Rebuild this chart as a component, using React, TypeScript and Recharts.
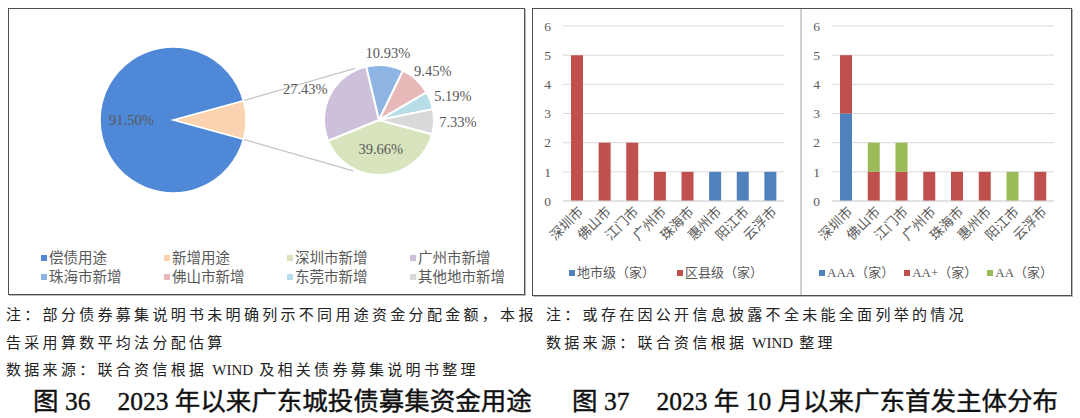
import React from 'react';
import { PieChart, Pie, Cell, BarChart, Bar, XAxis, YAxis, CartesianGrid } from 'recharts';

// ---------- data ----------
const mainNames = ['偿债用途', '新增用途'];
const mainValues = [91.5, 8.5];
const subNames = ['深圳市新增', '广州市新增', '珠海市新增', '佛山市新增', '东莞市新增', '其他地市新增'];
const subValues = [39.66, 27.43, 10.93, 9.45, 5.19, 7.33];
const legendNames = ['偿债用途', '新增用途', '深圳市新增', '广州市新增', '珠海市新增', '佛山市新增', '东莞市新增', '其他地市新增'];

const cities = ['深圳市', '佛山市', '江门市', '广州市', '珠海市', '惠州市', '阳江市', '云浮市'];
const cityLevel = [0, 0, 0, 0, 0, 1, 1, 1];
const districtLevel = [5, 2, 2, 1, 1, 0, 0, 0];
const ratingAAA = [3, 0, 0, 0, 0, 0, 0, 0];
const ratingAAPlus = [2, 1, 1, 1, 1, 1, 0, 1];
const ratingAA = [0, 1, 1, 0, 0, 0, 1, 0];
const yTicks = [0, 1, 2, 3, 4, 5, 6];

const levelSeries = ['地市级（家）', '区县级（家）'];
const ratingSeries = ['AAA（家）', 'AA+（家）', 'AA（家）'];

// ---------- styles ----------
const SERIF = '"Liberation Serif", "Noto Sans CJK SC", serif';
const TEXT = '#595959';
const colorOf: Record<string, string> = {
  '偿债用途': '#4F88D6',
  '新增用途': '#FBD3B0',
  '深圳市新增': '#D7E4BD',
  '广州市新增': '#CCC0DA',
  '珠海市新增': '#8DB4E2',
  '佛山市新增': '#E6B9B8',
  '东莞市新增': '#B7DEE8',
  '其他地市新增': '#D9D9D9',
};
const BLUE = '#4F81BD';
const RED = '#C0504D';
const GREEN = '#9BBB59';

// pie geometry
const MAIN_CX = 173, MAIN_CY = 120, MAIN_R = 73;
const SUB_CX = 379, SUB_CY = 120, SUB_R = 55;
const SUB_START = -15;

const mainData = [
  { name: mainNames[1], value: mainValues[1] },
  { name: mainNames[0], value: mainValues[0] },
];
const subData = subNames.map((n, i) => ({ name: n, value: subValues[i] }));
const mainHalf = (mainValues[1] / (mainValues[0] + mainValues[1])) * 180;

const levelData = cities.map((c, i) => ({ city: c, a: cityLevel[i], b: districtLevel[i] }));
const ratingData = cities.map((c, i) => ({ city: c, aaa: ratingAAA[i], aap: ratingAAPlus[i], aa: ratingAA[i] }));

const RAD = Math.PI / 180;
const LABEL_FS = 14.5;

const mainLabel = (p: any) => {
  const { cx, cy, midAngle, outerRadius, percent, value } = p;
  if (percent < 0.5) return null;
  const r = outerRadius * 0.57;
  const x = cx + r * Math.cos(-midAngle * RAD);
  const y = cy + r * Math.sin(-midAngle * RAD);
  return (
    <text x={x} y={y} textAnchor="middle" dominantBaseline="central" fontSize={LABEL_FS} fontFamily={SERIF} fill={TEXT}>
      {Number(value).toFixed(2)}%
    </text>
  );
};

const subLabel = (p: any) => {
  const { cx, cy, midAngle, outerRadius, percent, value } = p;
  const c = Math.cos(-midAngle * RAD);
  const s = Math.sin(-midAngle * RAD);
  const txt = Number(value).toFixed(2) + '%';
  if (percent > 0.35) {
    const r = outerRadius * 0.53;
    return (
      <text x={cx + r * c} y={cy + r * s} textAnchor="middle" dominantBaseline="central" fontSize={LABEL_FS} fontFamily={SERIF} fill={TEXT}>
        {txt}
      </text>
    );
  }
  const px = cx + (outerRadius + 5) * c;
  const py = cy + (outerRadius + 5) * s;
  const w = txt.length * 7.6;
  const h = 14;
  return (
    <text x={px + (c * w) / 2} y={py + (s * h) / 2} textAnchor="middle" dominantBaseline="central" fontSize={LABEL_FS} fontFamily={SERIF} fill={TEXT}>
      {txt}
    </text>
  );
};

const CityTick = (props: any) => {
  const { x, y, payload } = props;
  return (
    <g transform={`translate(${x + 4},${y})`}>
      <text x={0} y={0} dy="0.35em" textAnchor="end" transform="rotate(-45)" fontSize={13.5} fontFamily={SERIF} fill={TEXT}>
        {payload.value}
      </text>
    </g>
  );
};

const Marker = ({ color }: { color: string }) => (
  <span style={{ display: 'inline-block', width: 6, height: 6, background: color, marginRight: 2, verticalAlign: 'middle', position: 'relative', top: -1 }} />
);

const abs = (l: number, t: number, extra: React.CSSProperties = {}): React.CSSProperties => ({
  position: 'absolute',
  left: l,
  top: t,
  ...extra,
});

const noteStyle: React.CSSProperties = {
  fontFamily: SERIF,
  fontSize: 15,
  letterSpacing: 3.3,
  color: '#222',
  whiteSpace: 'pre',
  lineHeight: '20px',
};

const latin: React.CSSProperties = { letterSpacing: 0, marginLeft: -2, marginRight: 6 };

const captionStyle: React.CSSProperties = {
  fontFamily: SERIF,
  fontSize: 25.5,
  fontWeight: 400,
  color: '#111',
  whiteSpace: 'pre',
  lineHeight: '30px',
  WebkitTextStroke: '0.4px #111',
};

export default function App() {
  // connector geometry derived from pie constants
  const p1 = { x: MAIN_CX + MAIN_R * Math.cos(mainHalf * RAD), y: MAIN_CY - MAIN_R * Math.sin(mainHalf * RAD) };
  const p2 = { x: MAIN_CX + MAIN_R * Math.cos(-mainHalf * RAD), y: MAIN_CY - MAIN_R * Math.sin(-mainHalf * RAD) };
  const q1 = { x: SUB_CX + (SUB_R + 2) * Math.cos(115 * RAD), y: SUB_CY - (SUB_R + 2) * Math.sin(115 * RAD) };
  const q2 = { x: SUB_CX + (SUB_R + 2) * Math.cos(-117 * RAD), y: SUB_CY - (SUB_R + 2) * Math.sin(-117 * RAD) };

  return (
    <div style={{ position: 'absolute', left: 0, top: 0, width: 1080, height: 418, background: '#fff', overflow: 'hidden' }}>
      {/* panel frames */}
      <div style={abs(8, 8, { width: 517, height: 287, border: '1.5px solid #505050', boxShadow: '1px 1px 0 #bbb', boxSizing: 'border-box' })} />
      <div style={abs(532, 8, { width: 540, height: 288, border: '1.5px solid #505050', boxShadow: '1px 1px 0 #bbb', boxSizing: 'border-box' })} />
      <div style={abs(800, 9, { width: 1.5, height: 286, background: '#D0D0D0' })} />

      {/* connectors */}
      <svg width={540} height={300} style={abs(0, 0)}>
        <line x1={p1.x} y1={p1.y} x2={q1.x} y2={q1.y} stroke="#C4C4C4" strokeWidth={1.3} />
        <line x1={p2.x} y1={p2.y} x2={q2.x} y2={q2.y} stroke="#C4C4C4" strokeWidth={1.3} />
      </svg>

      {/* pies */}
      <div style={abs(0, 0)}>
        <PieChart width={540} height={300} margin={{ top: 0, right: 0, bottom: 0, left: 0 }}>
          <Pie
            data={mainData}
            dataKey="value"
            nameKey="name"
            cx={MAIN_CX}
            cy={MAIN_CY}
            outerRadius={MAIN_R}
            startAngle={mainHalf}
            endAngle={mainHalf - 360}
            stroke="#fff"
            strokeWidth={1.5}
            label={mainLabel}
            labelLine={false}
            isAnimationActive={false}
          >
            {mainData.map((d) => (
              <Cell key={d.name} fill={colorOf[d.name]} />
            ))}
          </Pie>
          <Pie
            data={subData}
            dataKey="value"
            nameKey="name"
            cx={SUB_CX}
            cy={SUB_CY}
            outerRadius={SUB_R}
            startAngle={SUB_START}
            endAngle={SUB_START - 360}
            stroke="#fff"
            strokeWidth={2}
            label={subLabel}
            labelLine={false}
            isAnimationActive={false}
          >
            {subData.map((d) => (
              <Cell key={d.name} fill={colorOf[d.name]} />
            ))}
          </Pie>
        </PieChart>
      </div>

      {/* pie legend */}
      <div style={abs(41, 248.5, { display: 'grid', gridTemplateColumns: 'repeat(4, 123px)', gridAutoRows: '19px' })}>
        {legendNames.map((n) => (
          <div key={n} style={{ fontFamily: SERIF, fontSize: 14.5, color: TEXT, lineHeight: '19px', whiteSpace: 'nowrap' }}>
            <Marker color={colorOf[n]} />
            {n}
          </div>
        ))}
      </div>

      {/* bar chart 1 */}
      <div style={abs(532, 0)}>
        <BarChart width={268} height={300} data={levelData} margin={{ top: 26, right: 16, bottom: 39, left: 0 }} barSize={12}>
          <CartesianGrid vertical={false} stroke="#D9D9D9" />
          <XAxis dataKey="city" interval={0} axisLine={{ stroke: '#D9D9D9' }} tickLine={false} tick={<CityTick />} height={60} />
          <YAxis domain={[0, 6]} ticks={yTicks} width={31} axisLine={false} tickLine={false} tickMargin={6} tick={{ fontSize: 13.5, fontFamily: SERIF, fill: TEXT }} />
          <Bar dataKey="a" stackId="s" fill={BLUE} isAnimationActive={false} />
          <Bar dataKey="b" stackId="s" fill={RED} isAnimationActive={false} />
        </BarChart>
      </div>
      <div style={abs(569, 264, { display: 'flex', gap: 22, fontFamily: SERIF, fontSize: 13, color: TEXT, lineHeight: '18px', whiteSpace: 'nowrap' })}>
        <div><Marker color={BLUE} />{levelSeries[0]}</div>
        <div><Marker color={RED} />{levelSeries[1]}</div>
      </div>

      {/* bar chart 2 */}
      <div style={abs(800, 0)}>
        <BarChart width={272} height={300} data={ratingData} margin={{ top: 26, right: 18, bottom: 39, left: 0 }} barSize={12}>
          <CartesianGrid vertical={false} stroke="#D9D9D9" />
          <XAxis dataKey="city" interval={0} axisLine={{ stroke: '#D9D9D9' }} tickLine={false} tick={<CityTick />} height={60} />
          <YAxis domain={[0, 6]} ticks={yTicks} width={32} axisLine={false} tickLine={false} tickMargin={6} tick={{ fontSize: 13.5, fontFamily: SERIF, fill: TEXT }} />
          <Bar dataKey="aaa" stackId="s" fill={BLUE} isAnimationActive={false} />
          <Bar dataKey="aap" stackId="s" fill={RED} isAnimationActive={false} />
          <Bar dataKey="aa" stackId="s" fill={GREEN} isAnimationActive={false} />
        </BarChart>
      </div>
      <div style={abs(819, 264, { display: 'flex', gap: 10, fontFamily: SERIF, fontSize: 13, color: TEXT, lineHeight: '18px', whiteSpace: 'nowrap' })}>
        <div><Marker color={BLUE} />{ratingSeries[0]}</div>
        <div><Marker color={RED} />{ratingSeries[1]}</div>
        <div><Marker color={GREEN} />{ratingSeries[2]}</div>
      </div>

      {/* notes */}
      <div style={abs(6, 305, noteStyle)}>注：部分债券募集说明书未明确列示不同用途资金分配金额，本报</div>
      <div style={abs(6, 333, noteStyle)}>告采用算数平均法分配估算</div>
      <div style={abs(6, 360, noteStyle)}>
        数据来源：联合资信根据 <span style={latin}>WIND</span>及相关债券募集说明书整理
      </div>
      <div style={abs(546, 305, noteStyle)}>注：或存在因公开信息披露不全未能全面列举的情况</div>
      <div style={abs(546, 333, noteStyle)}>
        数据来源：联合资信根据 <span style={latin}>WIND</span>整理
      </div>

      {/* captions */}
      <div style={abs(33, 387, captionStyle)}>
        图 36<span style={{ marginLeft: 27 }} />2023 年以来广东城投债募集资金用途
      </div>
      <div style={abs(572, 387, captionStyle)}>
        图 37<span style={{ marginLeft: 27 }} />2023 年 10 月以来广东首发主体分布
      </div>
    </div>
  );
}
